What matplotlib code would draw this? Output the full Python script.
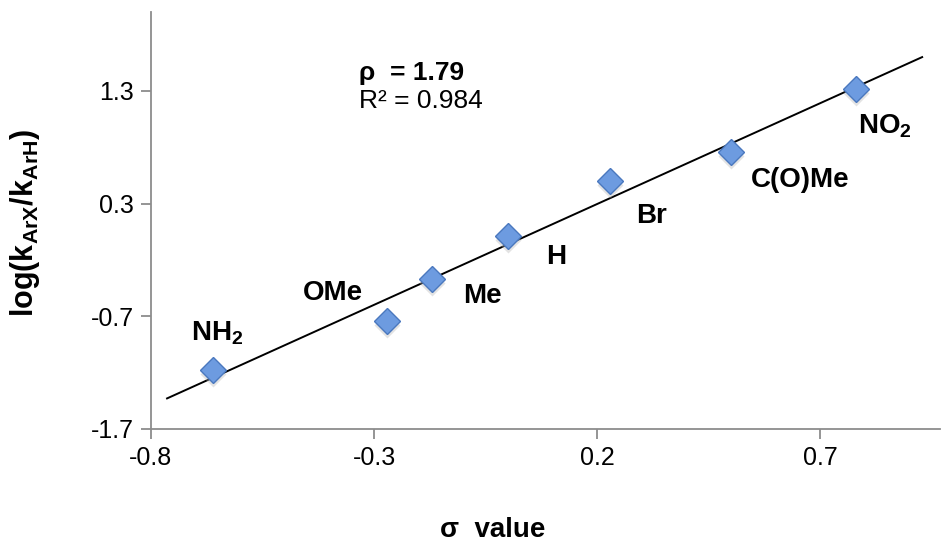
import numpy as np
import matplotlib
matplotlib.use("Agg")
from matplotlib import pyplot as plt

plt.rcParams['font.family'] = ['Liberation Sans', 'DejaVu Sans']
plt.rcParams['mathtext.fontset'] = 'custom'
plt.rcParams['mathtext.rm'] = 'Liberation Sans'
plt.rcParams['mathtext.bf'] = 'Liberation Sans:bold'

# substituent data
names = ["$\\mathbf{NH_2}$", "OMe", "Me", "H", "Br", "C(O)Me", "$\\mathbf{NO_2}$"]
sigma = [-0.66, -0.27, -0.17, 0.00, 0.23, 0.50, 0.78]
log_k = [-1.18, -0.74, -0.37, 0.01, 0.50, 0.76, 1.32]
label_x = [-0.652, -0.392, -0.058, 0.108, 0.323, 0.655, 0.846]
label_y = [-0.85, -0.49, -0.52, -0.17, 0.19, 0.51, 0.99]

x_ticks = [-0.8, -0.3, 0.2, 0.7]
y_ticks = [-1.7, -0.7, 0.3, 1.3]

rho = 1.79
r2 = 0.984

W, H = 943, 543
fig = plt.figure(figsize=(W / 100, H / 100), dpi=100)
ax = fig.add_axes([151 / W, 1 - 429 / H, 789 / W, 417 / H])

# linear trendline with small forecast both ways
coef = np.polyfit(sigma, log_k, 1)
xl = np.array([-0.764, 0.929])
ax.plot(xl, np.polyval(coef, xl), color="black", lw=1.4, zorder=2)

# soft shadow then markers
ax.plot(sigma, np.array(log_k) - 0.035, ls="none", marker="D", ms=13,
        mfc="#b0b0b0", mec="none", alpha=0.35, zorder=2.5)
ax.plot(sigma, log_k, ls="none", marker="D", ms=13, mfc="#6d9be0",
        mec="#4a78be", mew=1.0, zorder=3)

for n, lx, ly in zip(names, label_x, label_y):
    ax.text(lx, ly, n, fontsize=20, fontweight="bold", ha="center", va="center")

ax.text(-0.334, 1.457, "ρ  = %.2f" % rho, fontsize=19, fontweight="bold",
        ha="left", va="center")
ax.text(-0.334, 1.21, "R² = %.3f" % r2, fontsize=19, ha="left", va="center")

ax.set_xlim(-0.8, 0.969)
ax.set_ylim(-1.7, 2.0)
ax.set_xticks(x_ticks)
ax.set_yticks(y_ticks)
ax.set_xticklabels([str(t) for t in x_ticks])
ax.set_yticklabels([str(t) for t in y_ticks])

for s in ["top", "right"]:
    ax.spines[s].set_visible(False)
for s in ["left", "bottom"]:
    ax.spines[s].set_color("#8c8c8c")
    ax.spines[s].set_linewidth(1.3)
ax.tick_params(colors="#8c8c8c", labelcolor="black", length=7, width=1.3,
               labelsize=18, direction="out", pad=5)

fig.text(493 / W, 1 - 530 / H, "σ  value", fontsize=20, fontweight="bold",
         ha="center", va="center")
fig.text(25 / W, 1 - 223 / H, "log(k$_{\\mathbf{ArX}}$/k$_{\\mathbf{ArH}}$)",
         fontsize=22, fontweight="bold", rotation=90, ha="center", va="center")

fig.savefig("out.png", dpi=100)
